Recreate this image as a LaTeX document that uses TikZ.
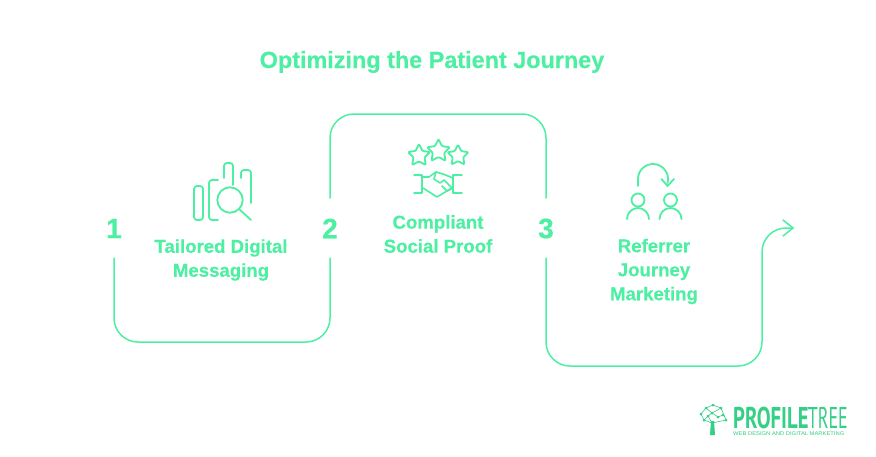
\documentclass[tikz,border=0pt]{standalone}
\usepackage{fontspec}
\setmainfont{Liberation Sans}[BoldFeatures={FakeBold=0.35}]
\newfontfamily\logofont{PT Sans}
\definecolor{mint}{HTML}{4DEFA3}
\definecolor{logogreen}{HTML}{35CF86}
\tikzset{
 x=1pt,y=-1pt,
 pathline/.style={draw=mint,line width=1.5pt,line join=round,line cap=round},
 iconline/.style={draw=mint,line width=1.8pt,line join=round,line cap=round},
 logoline/.style={draw=logogreen,line width=0.6pt},
 titletext/.style={text=mint,font=\bfseries\fontsize{23.4}{26}\selectfont,inner sep=0},
 labeltext/.style={text=mint,font=\bfseries\fontsize{18.6}{24}\selectfont,align=center,inner sep=0},
 numtext/.style={text=mint,font=\bfseries\fontsize{28}{30}\selectfont,inner sep=0}
}
\begin{document}
\begin{tikzpicture}
\useasboundingbox (0,0) rectangle (876,456);
\fill[white] (0,0) rectangle (876,456);
\node[titletext] (title) at (432,62) {Optimizing the Patient Journey};
\node[numtext] (n1) at (114,228.5) {1};
\node[numtext] (n2) at (330,228.5) {2};
\node[numtext] (n3) at (546,228.5) {3};
\node[labeltext] (l1) at (221,260) {Tailored Digital\\Messaging};
\node[labeltext] (l2) at (438,234) {Compliant\\Social Proof};
\node[labeltext] (l3) at (654,271.5) {Referrer\\Journey\\Marketing};
\coordinate (a1) at (114,258);
\coordinate (a2) at (330,258);
\coordinate (b1) at (330,198);
\coordinate (b2) at (546,198);
\coordinate (c1) at (546,258);
\coordinate (tip) at (793,228);
\draw[pathline] (a1) -- (114,318) arc[start angle=180,end angle=90,x radius=24pt,y radius=-24pt] -- (306,342) arc[start angle=90,end angle=0,x radius=24pt,y radius=-24pt] -- (a2);
\draw[pathline] (b1) -- (330,138) arc[start angle=180,end angle=90,x radius=24pt,y radius=24pt] -- (522,114) arc[start angle=90,end angle=0,x radius=24pt,y radius=24pt] -- (b2);
\draw[pathline] (c1) -- (546,342) arc[start angle=180,end angle=90,x radius=24pt,y radius=-24pt] -- (738,366) arc[start angle=90,end angle=0,x radius=24pt,y radius=-24pt] -- (762,252) arc[start angle=180,end angle=90,x radius=24pt,y radius=24pt] -- (tip);
\draw[pathline] (783,220) -- (tip) -- (783,236);
% icon 1
\draw[iconline,rounded corners=3pt] (194,186) rectangle (203,220);
\draw[iconline,rounded corners=3pt] (218,180) -- (209,180) -- (209,220) -- (218,220);
\draw[iconline,rounded corners=3pt] (224,178) -- (224,163) -- (233,163) -- (233,185);
\draw[iconline,rounded corners=3pt] (241,178) -- (241,170) -- (251,170) -- (251,203);
\draw[iconline] (230,200) circle[radius=12.7pt];
\draw[iconline] (239,209) -- (251,220);
% icon 2
\foreach \cx/\cy/\r in {419/155.6/11.6,438.5/151/12,458/155.6/11}{
 \draw[iconline,rounded corners=1pt] ({\cx+\r*sin(0)},{\cy-\r*cos(0)})
 -- ({\cx+.5*\r*sin(36)},{\cy-.5*\r*cos(36)})
 -- ({\cx+\r*sin(72)},{\cy-\r*cos(72)})
 -- ({\cx+.5*\r*sin(108)},{\cy-.5*\r*cos(108)})
 -- ({\cx+\r*sin(144)},{\cy-\r*cos(144)})
 -- ({\cx+.5*\r*sin(180)},{\cy-.5*\r*cos(180)})
 -- ({\cx+\r*sin(216)},{\cy-\r*cos(216)})
 -- ({\cx+.5*\r*sin(252)},{\cy-.5*\r*cos(252)})
 -- ({\cx+\r*sin(288)},{\cy-\r*cos(288)})
 -- ({\cx+.5*\r*sin(324)},{\cy-.5*\r*cos(324)}) -- cycle;
}
\draw[iconline,line width=1.6pt] (414,175) -- (422,175) -- (422,193) -- (414,193);
\draw[iconline,line width=1.6pt] (462,175) -- (453,175) -- (453,193) -- (462,193);
\draw[iconline,line width=1.6pt] (422,177) -- (429,177) -- (436,172) -- (443,174) -- (453,178);
\draw[iconline,line width=1.6pt] (423,188) -- (437,197) -- (447,191) -- (453,188);
\draw[iconline,line width=1.6pt] (436,172) -- (434,179) -- (440,183) -- (444,180) -- (452,188) -- (447,191) -- (442,186);
% icon 3
\draw[iconline] (638,186) -- (638,179) arc[start angle=180,end angle=-15,radius=15pt];
\draw[iconline] (661.5,179) -- (667.5,186) -- (674,179);
\draw[iconline] (638,200) circle[radius=6.5pt];
\draw[iconline] (670.5,200) circle[radius=6.5pt];
\draw[iconline] (627,219) arc[start angle=180,end angle=0,radius=11pt];
\draw[iconline] (659.5,219) arc[start angle=180,end angle=0,radius=11pt];
% logo
\fill[logogreen] (711,421) -- (714,421) -- (715,435) -- (710,435) -- cycle;
\foreach \p in {(701,414),(704,420),(706,408),(713,405),(721,408),(723,415),(726,420),(712,413),(718,417),(708,416)}{\fill[logogreen] \p circle[radius=1.5pt];}
\draw[logoline] (701,414) -- (706,408) -- (713,405) -- (721,408) -- (726,420) -- (712,423) -- (704,420) -- (701,414) (706,408) -- (712,413) -- (721,408) (712,413) -- (718,417) -- (723,415) (708,416) -- (712,423) (712,413) -- (708,416) -- (704,420);
\node[inner sep=0,text=logogreen,anchor=base west] (logoa) at (733,428) {\logofont\bfseries\fontsize{30}{32}\selectfont\scalebox{.69}[1]{PROFILE}};
\node[inner sep=0,text=logogreen,anchor=base east] (logob) at (848,428) {\logofont\fontsize{30}{32}\selectfont\scalebox{.6}[1]{TREE}};
\node[inner sep=0,text=logogreen,anchor=west] (logoc) at (733,434) {\fontsize{6}{6.5}\selectfont\scalebox{.97}[.9]{WEB DESIGN AND DIGITAL MARKETING}};
\end{tikzpicture}
\end{document}
